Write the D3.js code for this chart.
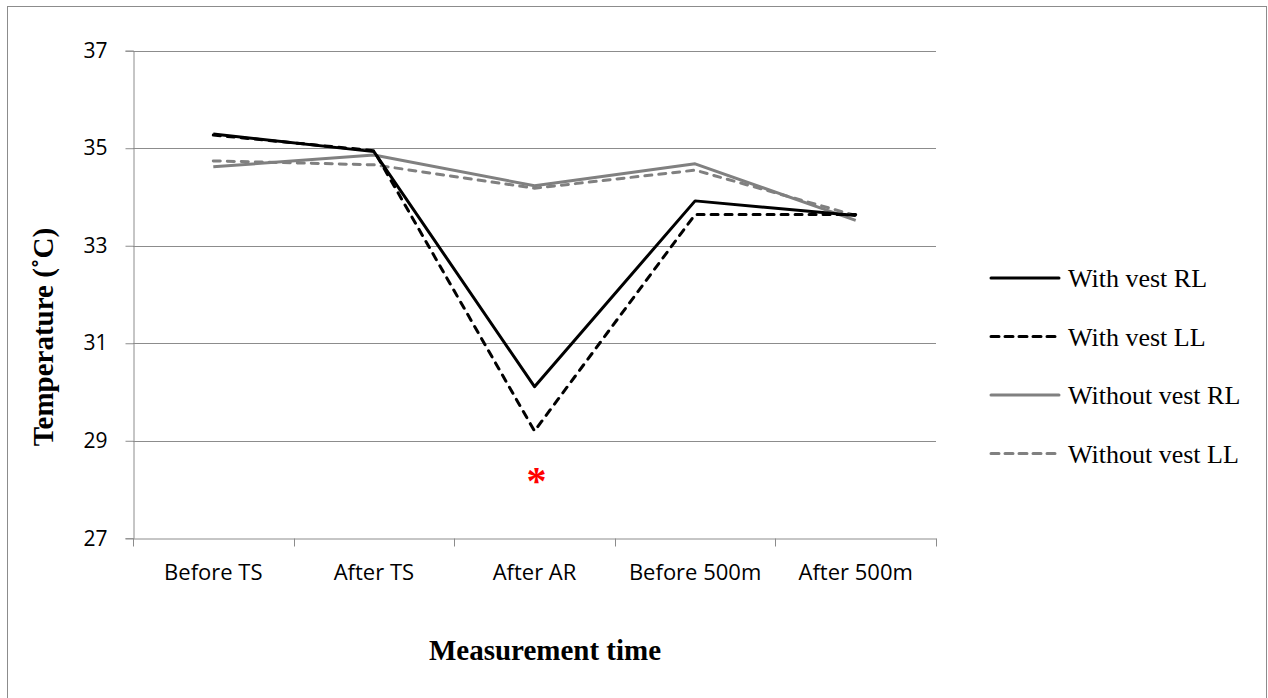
<!DOCTYPE html>
<html>
<head>
<meta charset="utf-8">
<script src="https://cdn.jsdelivr.net/npm/d3@7"></script>
<style>
  body { margin: 0; background: #fff; }
</style>
</head>
<body>
<svg id="chart" width="1268" height="698"></svg>
<script>
// measurement times (x categories)
const times = ["Before TS", "After TS", "After AR", "Before 500m", "After 500m"];
const yTicks = [27, 29, 31, 33, 35, 37];

// skin temperature per series
const withVestRL    = [35.29, 34.93, 30.11, 33.92, 33.62];
const withVestLL    = [35.27, 34.95, 29.2, 33.64, 33.64];
const withoutVestRL = [34.62, 34.86, 34.23, 34.68, 33.52];
const withoutVestLL = [34.74, 34.66, 34.18, 34.55, 33.62];

const seriesNames = ["With vest RL", "With vest LL", "Without vest RL", "Without vest LL"];
const seriesValues = [withVestRL, withVestLL, withoutVestRL, withoutVestLL];
const seriesColor = ["#000000", "#000000", "#808080", "#808080"];
const seriesDashed = [false, true, false, true];

const svg = d3.select("#chart");

// outer frame
svg.append("rect")
  .attr("x", 7.5).attr("y", 6.5)
  .attr("width", 1259).attr("height", 700)
  .attr("fill", "none").attr("stroke", "#8c8c8c").attr("stroke-width", 1);

const plotL = 133, plotR = 936, plotT = 50.7, plotB = 538.3;

const x = d3.scaleBand().domain(times).range([plotL, plotR]);
const y = d3.scaleLinear().domain([27, 37]).range([plotB, plotT]);

// horizontal grid
svg.append("g")
  .selectAll("line")
  .data(yTicks.filter(d => d !== 27))
  .enter().append("line")
  .attr("x1", plotL).attr("x2", plotR)
  .attr("y1", d => Math.round(y(d)) + 0.5).attr("y2", d => Math.round(y(d)) + 0.5)
  .attr("stroke", "#8c8c8c").attr("stroke-width", 1);

// y axis
const yAxis = svg.append("g")
  .attr("transform", `translate(${plotL + 0.5},0)`)
  .call(d3.axisLeft(y).tickValues(yTicks).tickSize(8).tickPadding(18).tickFormat(d3.format("d")));
yAxis.select(".domain").attr("stroke", "#8c8c8c");
yAxis.selectAll(".tick line").attr("stroke", "#8c8c8c");
yAxis.selectAll("text")
  .attr("font-family", "Open Sans, sans-serif").attr("font-size", 21).attr("fill", "#000");

// x axis
const xAxis = svg.append("g")
  .attr("transform", `translate(0,${Math.round(plotB) + 0.5})`)
  .call(d3.axisBottom(x).tickSize(0).tickPadding(26));
xAxis.select(".domain").attr("stroke", "#8c8c8c");
xAxis.selectAll("text")
  .attr("font-family", "Open Sans, sans-serif").attr("font-size", 22).attr("fill", "#000");
// tick marks sit between categories
xAxis.selectAll(".sep")
  .data(d3.range(times.length + 1))
  .enter().append("line")
  .attr("class", "sep")
  .attr("x1", i => Math.round(plotL + i * x.step()) + 0.5)
  .attr("x2", i => Math.round(plotL + i * x.step()) + 0.5)
  .attr("y1", 0).attr("y2", 8)
  .attr("stroke", "#8c8c8c");

// series lines
const line = d3.line()
  .x((d, i) => x(times[i]) + x.bandwidth() / 2)
  .y(d => y(d));

const order = [2, 3, 0, 1];
order.forEach(k => {
  svg.append("path")
    .datum(seriesValues[k])
    .attr("d", line)
    .attr("fill", "none")
    .attr("stroke", seriesColor[k])
    .attr("stroke-width", 3)
    .attr("stroke-linejoin", "round")
    .attr("stroke-linecap", seriesDashed[k] ? "round" : "butt")
    .attr("stroke-dasharray", seriesDashed[k] ? "7,7" : null);
});

// significance marker
svg.append("text")
  .attr("x", x("After AR") + x.bandwidth() / 2 + 2)
  .attr("y", 494)
  .attr("text-anchor", "middle")
  .attr("font-family", "Liberation Serif, serif")
  .attr("font-weight", "bold")
  .attr("font-size", 40)
  .attr("fill", "#ff0000")
  .text("*");

// legend
const legend = svg.append("g");
seriesNames.forEach((name, i) => {
  const ly = 278 + i * 58.5;
  legend.append("line")
    .attr("x1", 991).attr("x2", 1059)
    .attr("y1", ly).attr("y2", ly)
    .attr("stroke", seriesColor[i])
    .attr("stroke-width", 3)
    .attr("stroke-linecap", "round")
    .attr("stroke-dasharray", seriesDashed[i] ? "8,6" : null);
  legend.append("text")
    .attr("x", 1068).attr("y", ly + 9)
    .attr("font-family", "Liberation Serif, serif")
    .attr("font-size", 26)
    .attr("fill", "#000")
    .text(name);
});

// axis titles
svg.append("text")
  .attr("transform", "translate(53,337) rotate(-90)")
  .attr("text-anchor", "middle")
  .attr("font-family", "Liberation Serif, serif")
  .attr("font-weight", "bold")
  .attr("font-size", 29)
  .text("Temperature (\u02DAC)");

svg.append("text")
  .attr("x", 545).attr("y", 660)
  .attr("text-anchor", "middle")
  .attr("font-family", "Liberation Serif, serif")
  .attr("font-weight", "bold")
  .attr("font-size", 29)
  .text("Measurement time");
</script>
</body>
</html>
